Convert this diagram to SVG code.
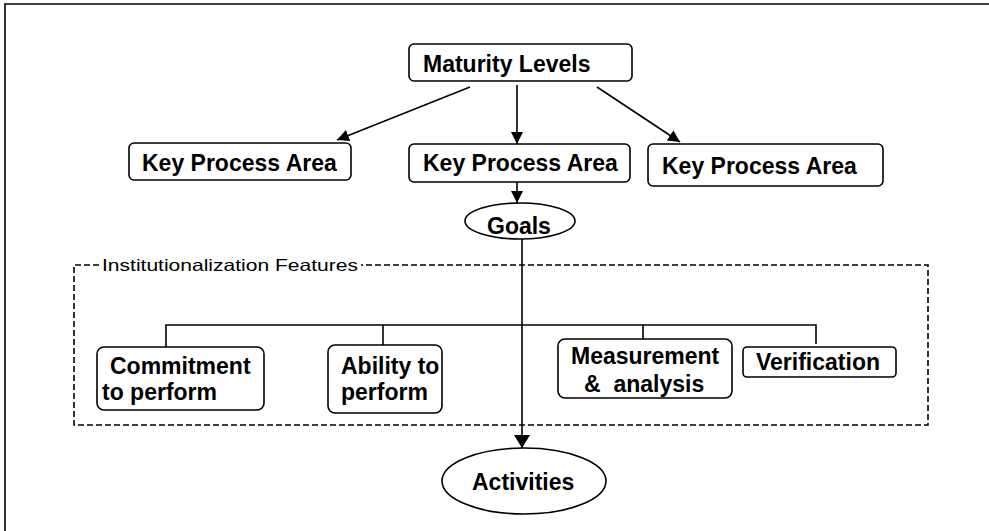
<svg xmlns="http://www.w3.org/2000/svg" width="989" height="531" viewBox="0 0 989 531">
<style>
.box{fill:#fff;stroke:#000;stroke-width:1.6}
.t{font-family:"Liberation Sans",Arial,sans-serif;font-weight:bold;font-size:23px;fill:#000}
.lbl{font-family:"Liberation Sans",Arial,sans-serif;font-size:16.5px;fill:#000}
.ln{stroke:#000;stroke-width:1.6;fill:none}
.dash{stroke:#000;stroke-width:1.6;fill:none;stroke-dasharray:6 3}
</style>
<defs>
<marker id="ah" markerUnits="userSpaceOnUse" markerWidth="14" markerHeight="12" refX="12" refY="6" orient="auto">
<path d="M0,0 L12,6 L0,12 Z" fill="#000"/>
</marker>
<marker id="ahb" markerUnits="userSpaceOnUse" markerWidth="16" markerHeight="16" refX="13" refY="8" orient="auto">
<path d="M0,0 L13,8 L0,16 Z" fill="#000"/>
</marker>
</defs>
<rect width="989" height="531" fill="#fff"/>
<g id="frame">
<path class="ln" d="M5,531 V4 H989" stroke-width="2.2"/>
</g>
<g id="institutionalization-features">
<path class="dash" d="M99,265 H74 V425 H928 V265 H361"/>
<text class="lbl" x="102" y="271" textLength="256" lengthAdjust="spacingAndGlyphs">Institutionalization Features</text>
</g>
<g id="connectors">
<line class="ln" x1="470" y1="87" x2="337" y2="140" marker-end="url(#ah)"/>
<line class="ln" x1="517" y1="85" x2="517" y2="144" marker-end="url(#ah)"/>
<line class="ln" x1="597" y1="87" x2="680" y2="142" marker-end="url(#ah)"/>
<line class="ln" x1="517" y1="182" x2="517" y2="203" marker-end="url(#ah)"/>
<line class="ln" x1="522" y1="239" x2="522" y2="448" marker-end="url(#ahb)"/>
<path class="ln" d="M166,347 V325 H816 V344"/>
<line class="ln" x1="383" y1="325" x2="383" y2="345"/>
<line class="ln" x1="643" y1="325" x2="643" y2="339"/>
</g>
<g id="maturity-levels">
<rect class="box" x="409" y="44" width="223" height="37" rx="5"/>
<text class="t" x="423" y="72">Maturity Levels</text>
</g>
<g id="kpa-left">
<rect class="box" x="129" y="143" width="222" height="37" rx="5"/>
<text class="t" x="142" y="171">Key Process Area</text>
</g>
<g id="kpa-middle">
<rect class="box" x="409" y="144" width="221" height="38" rx="5"/>
<text class="t" x="423" y="171">Key Process Area</text>
</g>
<g id="kpa-right">
<rect class="box" x="648" y="144" width="235" height="42" rx="5"/>
<text class="t" x="662" y="174">Key Process Area</text>
</g>
<g id="goals">
<ellipse class="box" cx="520" cy="221" rx="55" ry="18"/>
<text class="t" x="487" y="234">Goals</text>
</g>
<g id="commitment">
<rect class="box" x="97" y="347" width="167" height="63" rx="7"/>
<text class="t" x="110" y="374">Commitment</text>
<text class="t" x="102" y="400">to perform</text>
</g>
<g id="ability">
<rect class="box" x="328" y="345" width="114" height="68" rx="7"/>
<text class="t" x="341" y="374">Ability to</text>
<text class="t" x="341" y="400">perform</text>
</g>
<g id="measurement">
<rect class="box" x="558" y="339" width="174" height="59" rx="7"/>
<text class="t" x="571" y="364">Measurement</text>
<text class="t" x="584" y="392" xml:space="preserve">&amp;  analysis</text>
</g>
<g id="verification">
<rect class="box" x="743" y="347" width="153" height="30" rx="4"/>
<text class="t" x="756" y="370">Verification</text>
</g>
<g id="activities">
<ellipse class="box" cx="524" cy="481" rx="82" ry="33"/>
<text class="t" x="472" y="490">Activities</text>
</g>
</svg>
